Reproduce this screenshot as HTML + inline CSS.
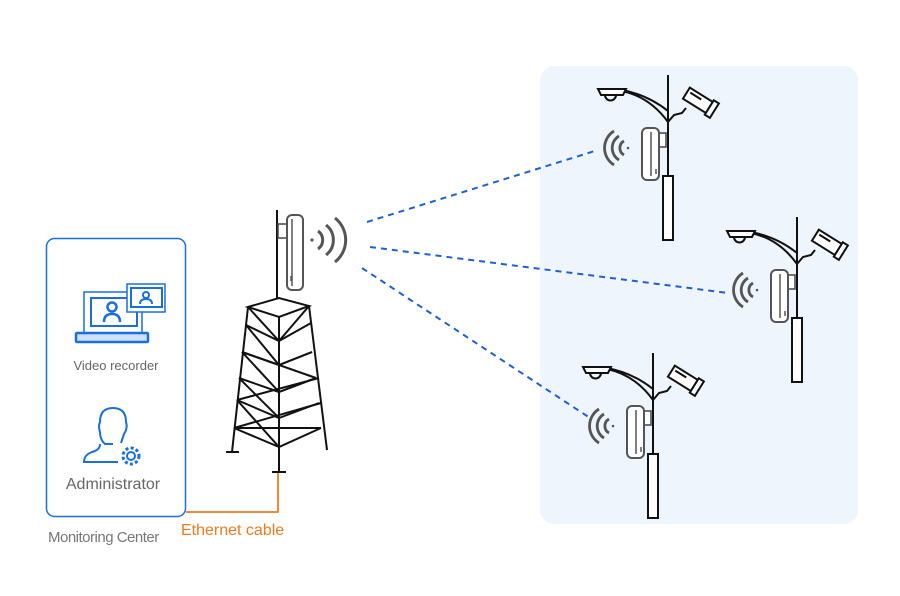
<!DOCTYPE html>
<html><head><meta charset="utf-8"><style>
body{margin:0;background:#fff;}
svg{display:block;font-family:"Liberation Sans",sans-serif;}
</style></head><body>
<svg width="900" height="596" viewBox="0 0 900 596" xmlns="http://www.w3.org/2000/svg">
<defs>
<g id="pole" fill="none" stroke="#111" stroke-width="2">
  <line x1="0" y1="0" x2="0" y2="101"/>
  <rect x="-5" y="101" width="10" height="64" fill="#fff"/>
  <path d="M0,47 Q-18,22 -46,16"/>
  <path d="M0,36 Q-20,20 -46,15"/>
  <path d="M-70,14 L-42,14 L-45,20 L-67,20 Z" fill="#fff"/>
  <path d="M-63,20 A5,5 0 0 0 -52,20" />
  <path d="M0,47 L6,40 L14,38 L18,33"/>
  <g transform="rotate(32 30 26)">
    <rect x="16" y="19" width="27" height="13" fill="#fff"/>
    <line x1="19" y1="23" x2="32" y2="23"/>
    <rect x="43" y="17" width="6" height="17" fill="#fff"/>
  </g>
  <rect x="-9" y="58" width="7" height="14" fill="#fff" stroke="#444" stroke-width="1.5"/>
  <rect x="-26" y="53" width="17" height="52" rx="5" fill="#fff" stroke="#555" stroke-width="2"/>
  <line x1="-17" y1="57" x2="-17" y2="101" stroke="#555" stroke-width="1.5"/>
  <line x1="-12" y1="94" x2="-12" y2="99" stroke="#555" stroke-width="1.5"/>
  <g stroke="#555" stroke-width="2.8">
    <circle cx="-40" cy="73" r="1.3" fill="#555" stroke="none"/>
    <path d="M-44,66 A8,8 0 0 0 -44,80"/>
    <path d="M-49,61 A14,14 0 0 0 -49,85"/>
    <path d="M-54,56 A20,20 0 0 0 -54,90"/>
  </g>
</g>
</defs>

<rect x="540" y="66" width="318" height="458" rx="14" fill="#eff5fc"/>

<g stroke="#1a62d4" stroke-width="2" stroke-dasharray="6,5" fill="none">
  <line x1="367" y1="222" x2="598" y2="150"/>
  <line x1="370" y1="247" x2="728" y2="293"/>
  <line x1="362" y1="268" x2="590" y2="418"/>
</g>

<use href="#pole" transform="translate(668,75)"/>
<use href="#pole" transform="translate(797,217)"/>
<use href="#pole" transform="translate(653,353)"/>

<rect x="46.5" y="238.5" width="139" height="278" rx="8" fill="#fff" stroke="#1a6fe0" stroke-width="1.5"/>
<g fill="none" stroke="#1a6fe0" stroke-width="2">
  <rect x="84" y="292" width="58" height="42" stroke-width="1.5"/>
  <rect x="91" y="298" width="46" height="28"/>
  <circle cx="112" cy="307" r="4.5" stroke-width="2.5"/>
  <path d="M104,322 Q104,314 112,314 Q120,314 120,322" stroke-width="2.5"/>
  <rect x="127" y="284" width="38" height="28" fill="#fff" stroke-width="1.5"/>
  <rect x="131" y="288" width="31" height="19"/>
  <circle cx="146" cy="295" r="3"/>
  <path d="M140,304 Q140,299 146,299 Q152,299 152,304"/>
  <rect x="76" y="333" width="72" height="9" rx="1" stroke-width="2.5" fill="#cfe0fa"/>
</g>
<text x="116" y="370" font-size="13" fill="#666" text-anchor="middle">Video recorder</text>
<g fill="none" stroke="#1a6fe0" stroke-width="2">
  <path d="M113,444 L105,444 Q100,440 100,432 Q98,426 100,422 Q100,408 113,408 Q126,408 126,422 Q128,428 124,434 Q122,440 121,443 M100,444 Q100,450 92,452 Q84,455 84,462 L118,462"/>
  <circle cx="131" cy="456" r="4"/>
  <circle cx="131" cy="456" r="8" stroke-dasharray="3,2.3" stroke-width="3"/>
</g>
<text x="113" y="489" font-size="16" fill="#666" text-anchor="middle">Administrator</text>
<text x="48" y="542" font-size="15" fill="#777" letter-spacing="-0.5">Monitoring Center</text>

<polyline points="186,512 278,512 278,472" fill="none" stroke="#f07a1e" stroke-width="1.8"/>
<text x="181" y="535" font-size="16" fill="#f07a1e">Ethernet cable</text>

<g fill="none" stroke="#111" stroke-width="2">
  <line x1="277" y1="210" x2="277" y2="298"/>
  <line x1="279" y1="317" x2="279" y2="472"/>
  <line x1="272" y1="472" x2="286" y2="472"/>
  <path d="M248,307 L279,298 L309,306 L279,317 Z"/>
  <line x1="248" y1="307" x2="232" y2="452"/>
  <line x1="309" y1="306" x2="327" y2="450"/>
  <line x1="226" y1="452" x2="239" y2="452"/>
  <path d="M248,307 L279,341 L309,306"/>
  <path d="M246,325 L279,341 L311,323"/>
  <path d="M246,325 L279,365 L312,352"/>
  <path d="M242,352 L279,365"/>
  <path d="M242,352 L279,392 L316,378"/>
  <path d="M242,352 L316,378"/>
  <path d="M239,378 L279,392"/>
  <path d="M239,378 L279,418 L319,403"/>
  <path d="M237,400 L319,378"/>
  <path d="M237,400 L279,418"/>
  <path d="M237,400 L279,447 L321,428"/>
  <path d="M234,428 L321,403"/>
  <path d="M234,428 L279,447"/>
  <path d="M234,428 L321,428"/>
  <path d="M312,352 L279,365"/>
  <path d="M316,378 L279,392"/>
</g>
<rect x="278" y="224" width="9" height="14" fill="#fff" stroke="#444" stroke-width="1.5"/>
<rect x="287" y="215" width="16" height="75" rx="5" fill="#fff" stroke="#555" stroke-width="2"/>
<line x1="292" y1="219" x2="292" y2="286" stroke="#555" stroke-width="1.5"/>
<line x1="291" y1="276" x2="291" y2="281" stroke="#555" stroke-width="1.5"/>
<g fill="none" stroke="#555" stroke-width="3">
  <circle cx="312" cy="240" r="1.6" fill="#555" stroke="none"/>
  <path d="M318,231 A11,11 0 0 1 318,249"/>
  <path d="M326,225 A19,19 0 0 1 326,255"/>
  <path d="M335,218 A28,28 0 0 1 335,262"/>
</g>
</svg>
</body></html>
